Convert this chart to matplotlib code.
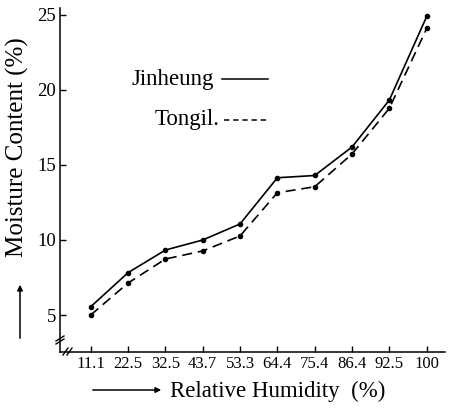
import matplotlib
matplotlib.use("Agg")
import matplotlib.pyplot as plt
from matplotlib.lines import Line2D
import numpy as np

humidity_labels = ["11.1", "22.5", "32.5", "43.7", "53.3", "64.4", "75.4", "86.4", "92.5", "100"]
jinheung = [5.55, 7.82, 9.33, 10.0, 11.07, 14.15, 14.3, 16.2, 19.33, 24.9]
tongil = [5.0, 7.13, 8.73, 9.27, 10.27, 13.15, 13.55, 15.73, 18.78, 24.1]
y_ticks = [5, 10, 15, 20, 25]

W, H = 452, 408
plt.rcParams['font.family'] = ['Liberation Serif', 'DejaVu Serif']
fig = plt.figure(figsize=(W / 100, H / 100), dpi=100)

# axes in pixel geometry
ax_l, ax_r, ax_t, ax_b = 60, 445, 8, 352
ax = fig.add_axes([ax_l / W, (H - ax_b) / H, (ax_r - ax_l) / W, (ax_b - ax_t) / H])

x = np.arange(len(humidity_labels))
ax.plot(x, jinheung, color='black', lw=1.2, marker='o', ms=3, solid_capstyle='round')
ax.plot(x, tongil, color='black', lw=1.2, marker='o', ms=3, dashes=(6, 3.5))

# scales: index 0 at px 90.7, spacing 37.33 px; y 5 at px 315, 15 px/unit
sp = 37.33
ax.set_xlim(-(90.7 - ax_l) / sp, (ax_r - 90.7) / sp)
ax.set_ylim(5 - (ax_b - 315) / 15, 25 + (15 - ax_t) / 15)

ax.set_xticks(x)
ax.set_xticklabels(humidity_labels, fontsize=12)
ax.set_yticks(y_ticks)
ax.set_yticklabels([str(v) for v in y_ticks], fontsize=13.5)
ax.tick_params(direction='in', length=4, width=1, colors='black', pad=3)
ax.tick_params(axis='x', pad=3)

for s in ['top', 'right']:
    ax.spines[s].set_visible(False)
for s in ['left', 'bottom']:
    ax.spines[s].set_linewidth(1.1)
    ax.spines[s].set_color('black')

def px(xp, yp):
    return (xp / W, 1 - yp / H)

def fline(xs, ys, **kw):
    fig.add_artist(Line2D([v / W for v in xs], [1 - v / H for v in ys],
                          transform=fig.transFigure, color='black', **kw))

# y-axis break
fline([56, 64], [341, 336], lw=1.0)
fline([56, 64], [344, 339], lw=1.0)
# x-axis break
fline([63, 68], [355, 348], lw=1.0)
fline([67, 72], [355, 348], lw=1.0)

# legend-like labels
fig.text(*px(132, 80), "Jinheung", fontsize=16.5, ha='left', va='center')
fline([222, 268], [79, 79], lw=1.1)
fig.text(*px(155, 120), "Tongil.", fontsize=16.5, ha='left', va='center')
fline([224, 268], [120, 120], lw=1.1, dashes=(3.5, 2.5))

# axis labels with arrows
fig.text(*px(17, 147), "Moisture Content (%)", fontsize=18, rotation=90,
         ha='center', va='center')
fig.add_artist(matplotlib.patches.FancyArrowPatch(px(20, 341), px(20, 282),
               transform=fig.transFigure, arrowstyle='-|>', mutation_scale=8,
               color='black', lw=1.1))
fig.text(*px(278, 391), "Relative Humidity  (%)", fontsize=16.5, ha='center', va='center')
fig.add_artist(matplotlib.patches.FancyArrowPatch(px(90, 390), px(164, 390),
               transform=fig.transFigure, arrowstyle='-|>', mutation_scale=8,
               color='black', lw=1.1))

fig.savefig("out.png", dpi=100, facecolor='white')
